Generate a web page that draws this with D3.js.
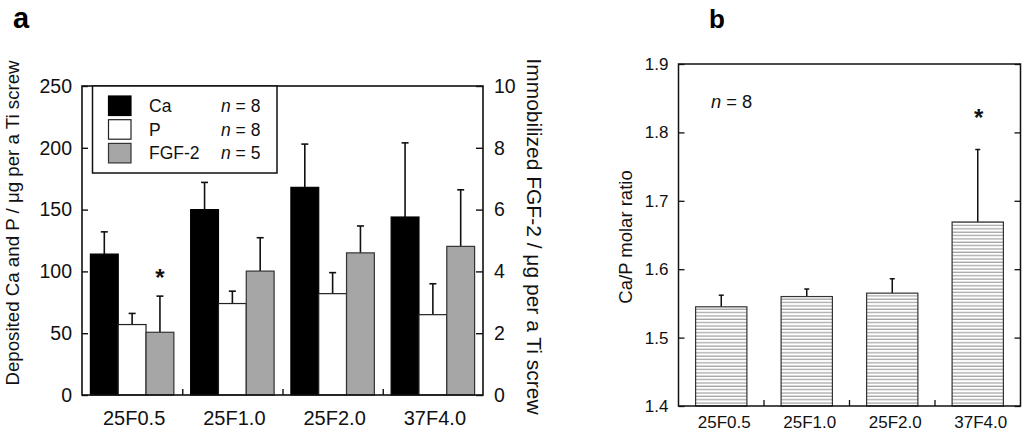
<!DOCTYPE html>
<html>
<head>
<meta charset="utf-8">
<script src="https://cdn.jsdelivr.net/npm/d3@7"></script>
<style>
  html, body { margin: 0; padding: 0; background: #fff; }
  svg { display: block; font-family: "Liberation Sans", Arial, sans-serif; }
</style>
</head>
<body>
<svg id="chart" width="1024" height="436"></svg>
<script>
// ---------- data ----------
const categories = ["25F0.5", "25F1.0", "25F2.0", "37F4.0"];
const seriesNames = ["Ca", "P", "FGF-2"];
const seriesN = [8, 8, 5];
const caMean = [114, 150, 168, 144];
const caSD = [18, 22, 35, 60];
const pMean = [57, 74, 82, 65];
const pSD = [9, 10, 17, 25];
const fgfMean = [2.03, 4.01, 4.6, 4.81];
const fgfSD = [1.17, 1.08, 0.87, 1.83];
const leftTicks = [0, 50, 100, 150, 200, 250];
const rightTicks = [0, 2, 4, 6, 8, 10];
const ratioMean = [1.545, 1.56, 1.565, 1.669];
const ratioSD = [0.017, 0.011, 0.021, 0.106];
const ratioTicks = [1.4, 1.5, 1.6, 1.7, 1.8, 1.9];
const ratioN = 8;
const starA = { category: "25F0.5", series: "FGF-2", value: 3.97 };
const starB = { category: "37F4.0", value: 1.83 };

const svg = d3.select("#chart");
const FONT = '"Liberation Sans", Arial, sans-serif';

// ---------- panel a ----------
const A = { left: 82, right: 483, top: 86, bottom: 395 };
const yL = d3.scaleLinear().domain([0, 250]).range([A.bottom, A.top]);
const yR = d3.scaleLinear().domain([0, 10]).range([A.bottom, A.top]);
const xA = d3.scaleBand().domain(categories).range([A.left, A.right]);
const xSub = d3.scaleBand().domain(seriesNames).range([8.4, xA.bandwidth() - 8.4]);

const fills = { "Ca": "#000000", "P": "#ffffff", "FGF-2": "#a6a6a6" };
const strokes = { "Ca": "#000000", "P": "#222222", "FGF-2": "#333333" };

const rows = [];
categories.forEach((c, i) => {
  rows.push({ c, s: "Ca", v: caMean[i], sd: caSD[i], y: yL });
  rows.push({ c, s: "P", v: pMean[i], sd: pSD[i], y: yL });
  rows.push({ c, s: "FGF-2", v: fgfMean[i], sd: fgfSD[i], y: yR });
});

const gA = svg.append("g");

const errA = gA.selectAll("g.err").data(rows).join("g").attr("class", "err");
errA.append("line")
  .attr("x1", d => xA(d.c) + xSub(d.s) + xSub.bandwidth() / 2)
  .attr("x2", d => xA(d.c) + xSub(d.s) + xSub.bandwidth() / 2)
  .attr("y1", d => d.y(d.v)).attr("y2", d => d.y(d.v + d.sd))
  .attr("stroke", "#111").attr("stroke-width", 1.6);
errA.append("line")
  .attr("x1", d => xA(d.c) + xSub(d.s) + xSub.bandwidth() / 2 - 3.5)
  .attr("x2", d => xA(d.c) + xSub(d.s) + xSub.bandwidth() / 2 + 3.5)
  .attr("y1", d => d.y(d.v + d.sd)).attr("y2", d => d.y(d.v + d.sd))
  .attr("stroke", "#111").attr("stroke-width", 1.6);

gA.selectAll("rect.bar").data(rows).join("rect").attr("class", "bar")
  .attr("x", d => xA(d.c) + xSub(d.s))
  .attr("width", xSub.bandwidth())
  .attr("y", d => d.y(d.v))
  .attr("height", d => A.bottom - d.y(d.v))
  .attr("fill", d => fills[d.s])
  .attr("stroke", d => strokes[d.s]).attr("stroke-width", 1.2);

const axL = gA.append("g").attr("transform", `translate(${A.left},0)`)
  .call(d3.axisLeft(yL).tickValues(leftTicks).tickSize(-6).tickPadding(10));
const axR = gA.append("g").attr("transform", `translate(${A.right},0)`)
  .call(d3.axisRight(yR).tickValues(rightTicks).tickSize(-7).tickPadding(11));
[axL, axR].forEach(ax => {
  ax.select(".domain").remove();
  ax.selectAll("line").attr("stroke", "#111").attr("stroke-width", 1.4);
  ax.selectAll("text").attr("font-family", FONT).attr("font-size", 19.5).attr("fill", "#111");
});
gA.append("rect").attr("x", A.left).attr("y", A.top)
  .attr("width", A.right - A.left).attr("height", A.bottom - A.top)
  .attr("fill", "none").attr("stroke", "#111").attr("stroke-width", 1.6);
gA.selectAll("line.bt").data(categories.slice(1)).join("line").attr("class", "bt")
  .attr("x1", d => xA(d) + 0.5).attr("x2", d => xA(d) + 0.5)
  .attr("y1", A.bottom).attr("y2", A.bottom - 6)
  .attr("stroke", "#111").attr("stroke-width", 1.4);
gA.selectAll("text.xl").data(categories).join("text").attr("class", "xl")
  .attr("x", d => xA(d) + xA.bandwidth() / 2 + 2).attr("y", 425)
  .attr("text-anchor", "middle").attr("font-family", FONT).attr("font-size", 20)
  .attr("fill", "#111").text(d => d);

gA.append("text").attr("transform", `translate(19,${223}) rotate(-90)`)
  .attr("text-anchor", "middle").attr("font-family", FONT).attr("font-size", 18.7)
  .attr("fill", "#111").text("Deposited Ca and P / μg per a Ti screw");
gA.append("text").attr("transform", `translate(527,${236.5}) rotate(90)`)
  .attr("text-anchor", "middle").attr("font-family", FONT).attr("font-size", 21)
  .attr("fill", "#111").text("Immobilized FGF-2 / μg per a Ti screw");

const leg = gA.append("g");
leg.append("rect").attr("x", 92.5).attr("y", A.top).attr("width", 184.5).attr("height", 87)
  .attr("fill", "#fff").attr("stroke", "#111").attr("stroke-width", 1.5);
const legRows = leg.selectAll("g.lr").data(seriesNames).join("g").attr("class", "lr")
  .attr("transform", (d, i) => `translate(0,${96 + i * 23.7})`);
legRows.append("rect").attr("x", 108.5).attr("y", 0).attr("width", 22.5).attr("height", 19.5)
  .attr("fill", d => fills[d]).attr("stroke", d => strokes[d]).attr("stroke-width", 1.2);
legRows.append("text").attr("x", 149).attr("y", 16)
  .attr("font-family", FONT).attr("font-size", 17.5).attr("fill", "#111").text(d => d);
const nt = legRows.append("text").attr("x", 221).attr("y", 16)
  .attr("font-family", FONT).attr("font-size", 17.5).attr("fill", "#111");
nt.append("tspan").attr("font-style", "italic").text("n");
nt.append("tspan").text((d, i) => " = " + seriesN[i]);

gA.append("text")
  .attr("x", xA(starA.category) + xSub(starA.series) + xSub.bandwidth() / 2)
  .attr("y", yR(starA.value) + 14)
  .attr("text-anchor", "middle").attr("font-family", FONT).attr("font-size", 24)
  .attr("font-weight", "bold").attr("fill", "#111").text("*");

svg.append("text").attr("x", 13).attr("y", 28).attr("font-family", FONT)
  .attr("font-size", 29).attr("font-weight", "bold").attr("fill", "#000").text("a");

// ---------- panel b ----------
const B = { left: 678.5, right: 1020.5, top: 64, bottom: 406 };
const yB = d3.scaleLinear().domain([1.4, 1.9]).range([B.bottom, B.top]);
const xB = d3.scaleBand().domain(categories).range([B.left, B.right]).paddingInner(0.4).paddingOuter(0.2);
const gB = svg.append("g");

const defs = svg.append("defs");
const pat = defs.append("pattern").attr("id", "hstripe").attr("patternUnits", "userSpaceOnUse")
  .attr("width", 8).attr("height", 3.35);
pat.append("rect").attr("width", 8).attr("height", 3.35).attr("fill", "#fff");
pat.append("line").attr("x1", 0).attr("x2", 8).attr("y1", 1).attr("y2", 1)
  .attr("stroke", "#8c8c8c").attr("stroke-width", 1);

const rb = categories.map((c, i) => ({ c, v: ratioMean[i], sd: ratioSD[i] }));
const errB = gB.selectAll("g.err").data(rb).join("g").attr("class", "err");
errB.append("line")
  .attr("x1", d => xB(d.c) + xB.bandwidth() / 2).attr("x2", d => xB(d.c) + xB.bandwidth() / 2)
  .attr("y1", d => yB(d.v)).attr("y2", d => yB(d.v + d.sd))
  .attr("stroke", "#111").attr("stroke-width", 1.5);
errB.append("line")
  .attr("x1", d => xB(d.c) + xB.bandwidth() / 2 - 2.5).attr("x2", d => xB(d.c) + xB.bandwidth() / 2 + 2.5)
  .attr("y1", d => yB(d.v + d.sd)).attr("y2", d => yB(d.v + d.sd))
  .attr("stroke", "#111").attr("stroke-width", 1.5);
gB.selectAll("rect.bar").data(rb).join("rect").attr("class", "bar")
  .attr("x", d => xB(d.c)).attr("width", xB.bandwidth())
  .attr("y", d => yB(d.v)).attr("height", d => B.bottom - yB(d.v))
  .attr("fill", "url(#hstripe)").attr("stroke", "#333").attr("stroke-width", 1.2);

const axBL = gB.append("g").attr("transform", `translate(${B.left},0)`)
  .call(d3.axisLeft(yB).tickValues(ratioTicks).tickFormat(d3.format(".1f")).tickSize(-6).tickPadding(10));
const axBR = gB.append("g").attr("transform", `translate(${B.right},0)`)
  .call(d3.axisRight(yB).tickValues(ratioTicks).tickFormat("").tickSize(-6));
[axBL, axBR].forEach(ax => {
  ax.select(".domain").remove();
  ax.selectAll("line").attr("stroke", "#111").attr("stroke-width", 1.3);
  ax.selectAll("text").attr("font-family", FONT).attr("font-size", 17).attr("fill", "#111");
});
gB.append("rect").attr("x", B.left).attr("y", B.top)
  .attr("width", B.right - B.left).attr("height", B.bottom - B.top)
  .attr("fill", "none").attr("stroke", "#111").attr("stroke-width", 1.5);
const bBounds = categories.slice(1).map((c, i) => (xB(categories[i]) + xB.bandwidth() + xB(c)) / 2);
gB.selectAll("line.bt").data(bBounds).join("line").attr("class", "bt")
  .attr("x1", d => d).attr("x2", d => d).attr("y1", B.bottom).attr("y2", B.bottom - 6)
  .attr("stroke", "#111").attr("stroke-width", 1.3);
gB.selectAll("text.xl").data(categories).join("text").attr("class", "xl")
  .attr("x", d => xB(d) + xB.bandwidth() / 2 + 3).attr("y", 428)
  .attr("text-anchor", "middle").attr("font-family", FONT).attr("font-size", 17)
  .attr("fill", "#111").text(d => d);
gB.append("text").attr("transform", `translate(632,237) rotate(-90)`)
  .attr("text-anchor", "middle").attr("font-family", FONT).attr("font-size", 18.5)
  .attr("fill", "#111").text("Ca/P molar ratio");
const nb = gB.append("text").attr("x", 711).attr("y", 108)
  .attr("font-family", FONT).attr("font-size", 18.3).attr("fill", "#111");
nb.append("tspan").attr("font-style", "italic").text("n");
nb.append("tspan").text(" = " + ratioN);
gB.append("text")
  .attr("x", xB(starB.category) + xB.bandwidth() / 2 + 1)
  .attr("y", yB(starB.value) + 14)
  .attr("text-anchor", "middle").attr("font-family", FONT).attr("font-size", 24)
  .attr("font-weight", "bold").attr("fill", "#111").text("*");

svg.append("text").attr("x", 709).attr("y", 28).attr("font-family", FONT)
  .attr("font-size", 26).attr("font-weight", "bold").attr("fill", "#000").text("b");
</script>
</body>
</html>
